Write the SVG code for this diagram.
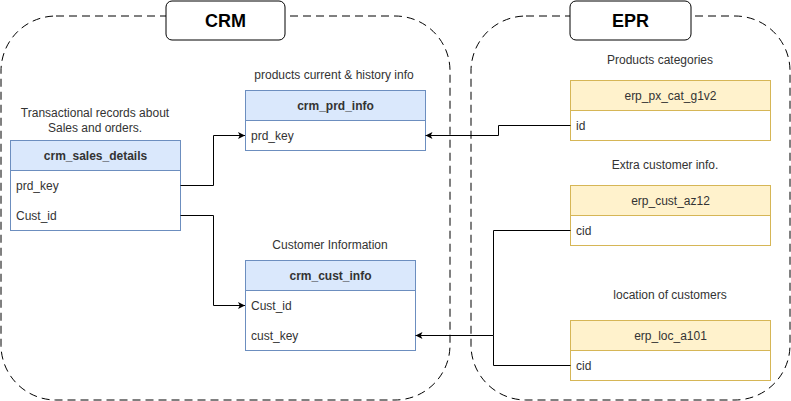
<svg xmlns="http://www.w3.org/2000/svg" width="791" height="401" viewBox="0 0 791 401">
<style>
text{font-family:"Liberation Sans",Arial,sans-serif;font-size:12px;fill:#333}
.container{fill:none;stroke:#000;stroke-dasharray:8 5}
.title{fill:#fff;stroke:#000}
.ttl{font-size:18px;font-weight:bold;fill:#000}
.crmh{fill:#dae8fc;stroke:#6c8ebf}
.crmb{fill:#fff;stroke:#6c8ebf}
.erph{fill:#fff2cc;stroke:#d6b656}
.erpb{fill:#fff;stroke:#d6b656}
.hd{text-anchor:middle}
.b{font-weight:bold}
.lbl{text-anchor:middle;fill:#333}
.edge{fill:none;stroke:#000;stroke-width:1}
</style>
<defs>
<marker id="arr" viewBox="0 0 10 10" refX="10" refY="5" markerWidth="7" markerHeight="7" orient="auto" markerUnits="userSpaceOnUse">
<path d="M0,0 L10,5 L0,10 L2.5,5 Z" fill="#000"/>
</marker>
</defs>
<rect width="791" height="401" fill="#fff"/>
<g id="crm-group">
<rect class="container" x="1" y="16" width="449" height="384" rx="55" ry="55"/>
<rect class="title" x="166" y="1" width="119" height="39" rx="6" ry="6"/>
<text class="ttl hd" x="225.5" y="27">CRM</text>
</g>
<g id="epr-group">
<rect class="container" x="471" y="16" width="319" height="384" rx="55" ry="55"/>
<rect class="title" x="570" y="1" width="121" height="39" rx="6" ry="6"/>
<text class="ttl hd" x="630.5" y="27">EPR</text>
</g>
<g id="crm_sales_details">
<text class="lbl" x="95" y="117">Transactional records about</text>
<text class="lbl" x="95" y="132">Sales and orders.</text>
<rect class="crmb" x="10.5" y="140.5" width="170" height="90"/>
<rect class="crmh" x="10.5" y="140.5" width="170" height="30"/>
<text class="hd b" x="95.5" y="159.5" fill="#000">crm_sales_details</text>
<text x="16" y="189.5">prd_key</text>
<text x="16" y="219.5">Cust_id</text>
</g>
<g id="crm_prd_info">
<text class="lbl" x="334" y="79">products current &amp; history info</text>
<rect class="crmb" x="245.5" y="90.5" width="180" height="60"/>
<rect class="crmh" x="245.5" y="90.5" width="180" height="30"/>
<text class="hd b" x="335.5" y="109.5">crm_prd_info</text>
<text x="251" y="139.5">prd_key</text>
</g>
<g id="crm_cust_info">
<text class="lbl" x="330" y="249">Customer Information</text>
<rect class="crmb" x="245.5" y="260.5" width="170" height="90"/>
<rect class="crmh" x="245.5" y="260.5" width="170" height="30"/>
<text class="hd b" x="330.5" y="279.5">crm_cust_info</text>
<text x="251" y="309.5">Cust_id</text>
<text x="251" y="339.5">cust_key</text>
</g>
<g id="erp_px_cat_g1v2">
<text class="lbl" x="660" y="64">Products categories</text>
<rect class="erpb" x="570.5" y="80.5" width="200" height="60"/>
<rect class="erph" x="570.5" y="80.5" width="200" height="30"/>
<text class="hd" x="670.5" y="99.5">erp_px_cat_g1v2</text>
<text x="576" y="129.5">id</text>
</g>
<g id="erp_cust_az12">
<text class="lbl" x="665" y="169">Extra customer info.</text>
<rect class="erpb" x="570.5" y="185.5" width="200" height="60"/>
<rect class="erph" x="570.5" y="185.5" width="200" height="30"/>
<text class="hd" x="670.5" y="204.5">erp_cust_az12</text>
<text x="576" y="234.5">cid</text>
</g>
<g id="erp_loc_a101">
<text class="lbl" x="670" y="299">location of customers</text>
<rect class="erpb" x="570.5" y="320.5" width="200" height="60"/>
<rect class="erph" x="570.5" y="320.5" width="200" height="30"/>
<text class="hd" x="670.5" y="339.5">erp_loc_a101</text>
<text x="576" y="369.5">cid</text>
</g>
<g id="connectors">
<path class="edge" d="M180.5,185.5 H213.5 V135.5 H245" marker-end="url(#arr)"/>
<path class="edge" d="M180.5,215.5 H213.5 V305.5 H245" marker-end="url(#arr)"/>
<path class="edge" d="M570.5,125.5 H498.5 V135.5 H425.5" marker-end="url(#arr)"/>
<path class="edge" d="M570.5,230.5 H493.5 V335.5 H415.5" marker-end="url(#arr)"/>
<path class="edge" d="M570.5,365.5 H493.5 V335.5"/>
</g>
</svg>
